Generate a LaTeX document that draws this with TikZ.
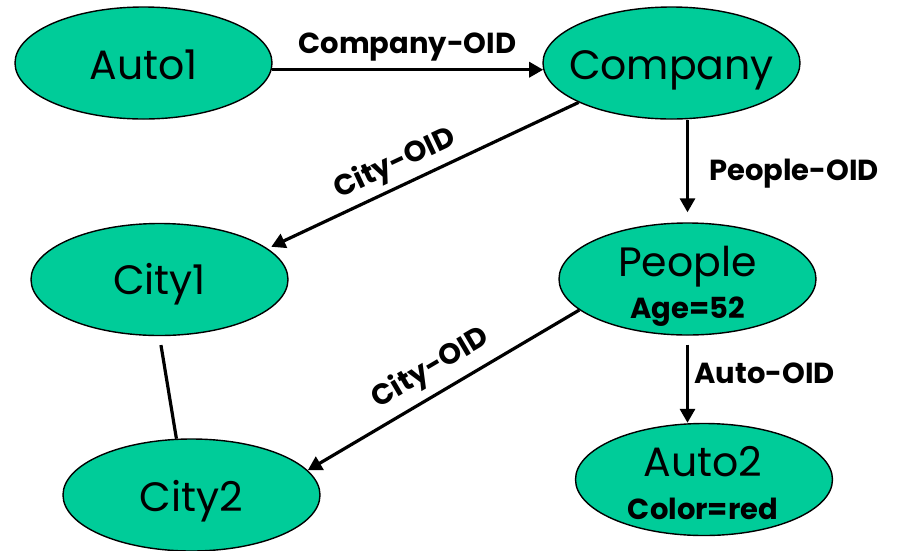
\documentclass[tikz,border=0pt]{standalone}
\usepackage{fontspec}
\setmainfont{Poppins}
\usetikzlibrary{shapes.geometric,arrows.meta,calc}
\definecolor{blobgreen}{RGB}{0,204,153}
\begin{document}
\begin{tikzpicture}[x=1pt,y=-1pt,
  blob/.style={ellipse, draw=black, line width=1.4pt, fill=blobgreen,
    minimum width=257pt, minimum height=112pt, inner sep=0pt},
  big/.style={font=\fontsize{41}{43}\selectfont, anchor=base, inner sep=0pt},
  sub/.style={font=\fontsize{29}{31}\selectfont\bfseries, anchor=base, inner sep=0pt},
  lbl/.style={font=\fontsize{29}{31}\selectfont\bfseries, inner sep=0pt},
  link/.style={line width=3.2pt},
  arr/.style={link, -{Triangle[length=14pt,width=15pt]}}]

\useasboundingbox (0,0) rectangle (903,550);

% objects
\node[blob] (auto1)   at (143.5,63)  {};
\node[blob] (company) at (671.5,63)  {};
\node[blob] (city1)   at (159.5,279.5) {};
\node[blob] (city2)   at (191.5,495) {};
\node[blob] (people)  at (687.5,279) {};
\node[blob] (auto2)   at (704,479.5) {};

% object names and attributes
\node[big] (auto1txt)   at (143.5,79)  {Auto1};
\node[big] (companytxt) at (671.5,79)  {Company};
\node[big] (city1txt)   at (159.5,294) {City1};
\node[big] (city2txt)   at (191.5,511) {City2};
\node[big] (peopletxt)  at (687.5,276) {People};
\node[sub] (agetxt)     at (687.5,318) {Age=52};
\node[big] (auto2txt)   at (703,476)   {Auto2};
\node[sub] (colortxt)   at (703,519)   {Color=red};

% references
\draw[arr] (auto1.-3.6) -- node[lbl, midway, anchor=base, yshift=16pt] {Company-OID} (company.183.6);
\draw[arr, shorten >=4pt] (company.203) -- node[lbl, sloped, pos=0.56, above=5pt] {City-OID} (city1.16.1);
\draw[arr, shorten >=10pt] (people.north |- company.south) -- node[lbl, midway, anchor=base west, xshift=20pt, yshift=-9pt] {People-OID} (people.north);
\draw[arr, shorten <=9pt] (people.south) -- node[lbl, midway, anchor=base west, xshift=5.5pt, yshift=-4pt] {Auto-OID} (people.south |- auto2.north);
\draw[arr] (people.196.5) -- node[lbl, sloped, midway, above=8pt] {City-OID} (city2.12.4);
\draw[link, shorten <=9pt] (city1.south) -- (city2.105.7);
\end{tikzpicture}
\end{document}
